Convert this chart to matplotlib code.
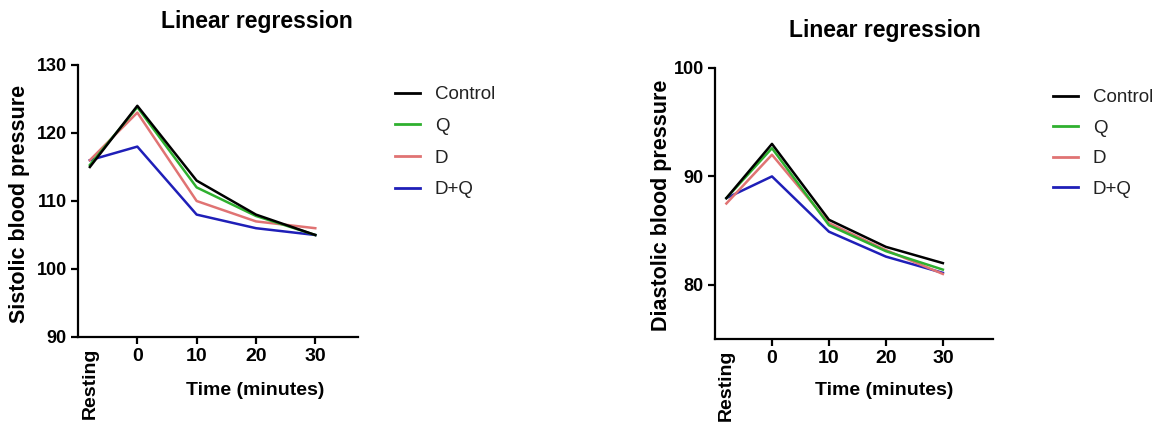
import matplotlib
matplotlib.use("Agg")
import matplotlib.pyplot as plt
from matplotlib.lines import Line2D

plt.rcParams['font.family'] = ['Liberation Sans', 'DejaVu Sans']

time_points = [-8, 0, 10, 20, 30]
tick_labels = ["Resting", "0", "10", "20", "30"]
series_names = ["Control", "Q", "D", "D+Q"]
colors = ["#000000", "#2fb02f", "#e07373", "#1f1fb8"]

sys_control = [115, 124, 113, 108, 105]
sys_q = [115.3, 123.8, 112, 107.8, 105]
sys_d = [116, 123, 110, 107, 106]
sys_dq = [116, 118, 108, 106, 105]

dia_control = [88, 93, 86, 83.5, 82]
dia_q = [88, 92.6, 85.5, 83.1, 81.4]
dia_d = [87.5, 92, 85.7, 83.2, 81]
dia_dq = [88, 90, 84.9, 82.6, 81.1]

fig = plt.figure(figsize=(11.53, 4.24), dpi=100)
ax1 = fig.add_axes([78/1153, 87/424, 280/1153, 272/424])
ax2 = fig.add_axes([715/1153, 85/424, 278/1153, 271/424])

def style(ax, xmax, ylim, yticks, ylabel, ylabel_xy, xlabel_xy, title, title_xy):
    ax.set_xlim(-10, xmax)
    ax.set_ylim(*ylim)
    ax.set_yticks(yticks)
    ax.set_xticks(time_points)
    ax.set_xticklabels(tick_labels)
    for lab in ax.get_xticklabels():
        lab.set_fontweight('bold')
        lab.set_fontsize(14)
    ax.get_xticklabels()[0].set_rotation(90)
    ax.get_xticklabels()[0].set_va('top')
    ax.xaxis.get_major_ticks()[0].tick1line.set_visible(False)
    for lab in ax.get_yticklabels():
        lab.set_fontweight('bold')
        lab.set_fontsize(13)
    for s in ['top', 'right']:
        ax.spines[s].set_visible(False)
    for s in ['left', 'bottom']:
        ax.spines[s].set_linewidth(1.6)
    ax.tick_params(width=1.6, length=5, pad=3)
    ax.set_ylabel(ylabel, fontsize=15.5, fontweight='bold')
    ax.yaxis.set_label_coords(*ylabel_xy)
    ax.set_xlabel("Time (minutes)", fontsize=14, fontweight='bold')
    ax.xaxis.set_label_coords(*xlabel_xy)
    ax.text(title_xy[0], title_xy[1], title, transform=ax.transAxes,
            ha='center', va='center', fontsize=16.5, fontweight='bold')

def draw(ax, data):
    handles = []
    for i in range(len(series_names) - 1, -1, -1):
        ax.plot(time_points, data[i], color=colors[i], lw=1.8, zorder=3 + (3 - i))
    for i, n in enumerate(series_names):
        handles.append(Line2D([0], [0], color=colors[i], lw=2, label=n))
    return handles

h = draw(ax1, [sys_control, sys_q, sys_d, sys_dq])
style(ax1, 37.2, (90, 130), [90, 100, 110, 120, 130], "Sistolic blood pressure",
      (-0.171, 0.49), (0.632, -0.165), "Linear regression", (0.64, 1.16))
draw(ax2, [dia_control, dia_q, dia_d, dia_dq])
style(ax2, 38.8, (75, 100), [80, 90, 100], "Diastolic blood pressure",
      (-0.155, 0.495), (0.61, -0.159), "Linear regression", (0.61, 1.14))

legkw = dict(loc='upper left', frameon=False, fontsize=13.5, handlelength=1.33,
             handletextpad=0.8, borderpad=0, borderaxespad=0)
leg1 = fig.legend(handles=h, bbox_to_anchor=(395/1153, 1 - 86/424), labelspacing=0.78, **legkw)
leg2 = fig.legend(handles=h, bbox_to_anchor=(1053/1153, 1 - 89/424), labelspacing=0.72, **legkw)
for leg in (leg1, leg2):
    for t in leg.get_texts():
        t.set_color('#222222')

fig.savefig("out.png", dpi=100)
